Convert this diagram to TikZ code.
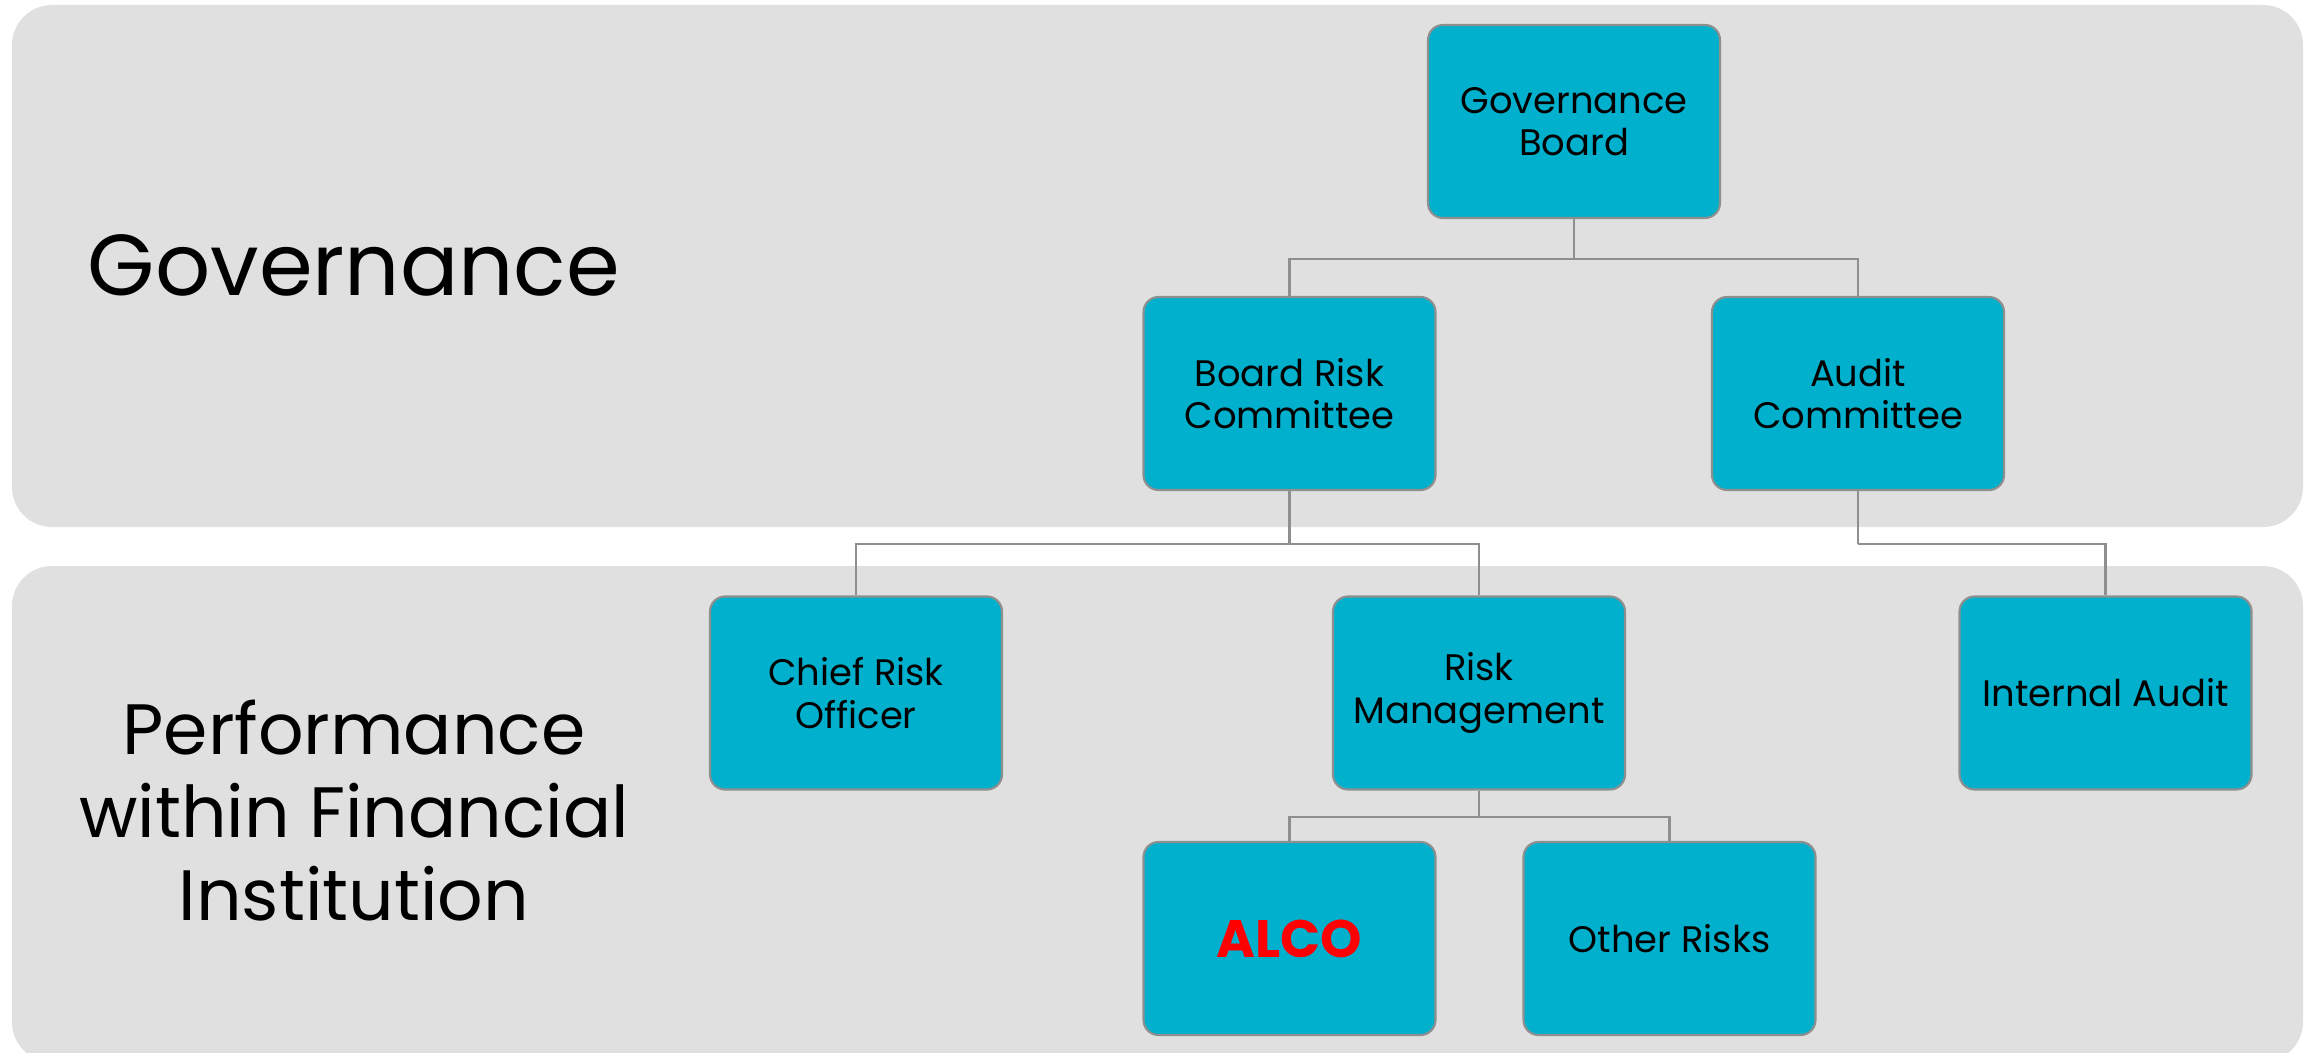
\documentclass[tikz,border=0pt]{standalone}
\usepackage{fontspec}
\setmainfont{Poppins}
\definecolor{bandgray}{HTML}{E0E0E0}
\definecolor{boxblue}{HTML}{00B0CC}
\definecolor{linegray}{HTML}{8F8F8F}
\definecolor{alcored}{HTML}{FF0000}

\begin{document}
\begin{tikzpicture}[x=0.1mm, y=-0.1mm,
  band/.style={fill=bandgray, rounded corners=4mm},
  box/.style={draw=linegray, line width=0.6pt, fill=boxblue, rounded corners=1.5mm,
    minimum width=29.2mm, minimum height=19.3mm, inner sep=0pt, align=center,
    font=\fontsize{10.5}{12}\selectfont},
  link/.style={draw=linegray, line width=0.6pt},
  title/.style={align=center, font=\fontsize{24.6}{28}\selectfont}]

\useasboundingbox (0,0) rectangle (2315,1053);
\clip (0,0) rectangle (2315,1053);

% the two bands
\fill[band] (12,5) rectangle (2303,527);
\fill[band] (12,566) rectangle (2303,1062);

\node[title] (gov) at (354,265) {Governance};
\node[title, font=\fontsize{20.3}{23.6}\selectfont] (perf) at (354,811) {Performance\\within Financial\\Institution};

\node[box] (gb) at (1574,121.5) {Governance\\Board};
\node[box] (brc) at (1289.5,393.5) {Board Risk\\Committee};
\node[box] (ac) at (1858,393.5) {Audit\\Committee};
\node[box] (cro) at (856,693) {Chief Risk\\Officer};
\node[box] (rm) at (1479,693) {Risk\\Management};
\node[box] (ia) at (2105.5,693) {Internal Audit};
\node[box, font=\fontsize{15}{18}\selectfont\bfseries, text=alcored] (alco) at (1289.5,938.5) {ALCO};
\node[box] (or) at (1669.5,938.5) {Other Risks};

\draw[link] (gb.south) -- +(0,40) coordinate (a);
\draw[link] (a) -| (brc.north);
\draw[link] (a) -| (ac.north);

\draw[link] (brc.south) -- +(0,53) coordinate (b);
\draw[link] (b) -| (cro.north);
\draw[link] (b) -| (rm.north);

\draw[link] (ac.south) -- +(0,53) coordinate (c);
\draw[link] (c) -| (ia.north);

\draw[link] (rm.south) -- +(0,26) coordinate (d);
\draw[link] (d) -| (alco.north);
\draw[link] (d) -| (or.north);
\end{tikzpicture}
\end{document}
